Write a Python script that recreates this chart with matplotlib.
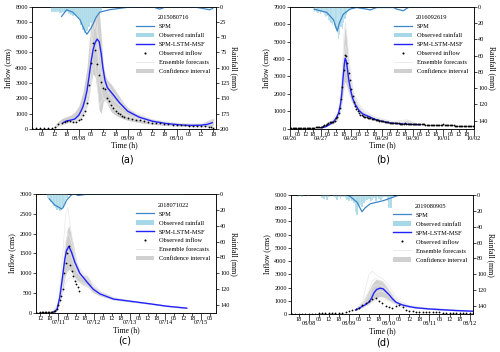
import matplotlib
matplotlib.use("Agg")
import matplotlib.pyplot as plt
import matplotlib.dates as mdates
from matplotlib.lines import Line2D
from matplotlib.patches import Patch
import pandas as pd

plt.rcParams["font.family"] = ["Liberation Serif", "DejaVu Serif"]

# ---------------- panel (a) 2015080716, hours from 2015-08-07 00:00 ----------------
a_base = "2015-08-07 00:00"
a_obs_h = [1, 3, 5, 7, 9, 11, 12.5, 14, 15.5, 17, 18, 19.5, 21, 22.5, 24, 25, 26, 27, 28, 29,
           30, 31, 32, 33, 34, 35, 36, 37, 38, 39, 40, 41, 42, 43, 44, 45, 46, 48, 50, 52,
           54, 56, 58, 60, 62, 64, 66, 68, 70, 72, 74, 76, 78, 80, 82, 84, 86, 88, 89, 90]
a_obs = [30, 30, 30, 30, 40, 60, 120, 330, 380, 450, 540, 520, 480, 470, 560, 640, 920, 1150, 1700, 2850,
         4300, 5600, 5150, 4250, 3550, 3100, 2650, 2620, 2050, 1800, 1550, 1350, 1150, 1050, 1000, 850, 780, 700, 640, 600,
         570, 500, 450, 410, 380, 350, 320, 290, 270, 250, 235, 220, 205, 195, 185, 175, 165, 150, 100, 60]
a_msf_h = [16.5, 18, 20, 22, 24, 25, 26, 27, 28, 29, 30, 31, 32, 33, 34, 35, 35.8, 36.8, 38, 40.8,
           44, 48, 53.7, 60, 66.6, 72, 76, 80, 84, 87, 89.5]
a_msf = [420, 520, 570, 640, 900, 1150, 1450, 1900, 2500, 3400, 4400, 5180, 5650, 5880, 5700, 4900, 4000, 3200, 2700, 2250,
         1700, 1150, 760, 500, 350, 280, 240, 225, 240, 290, 400]
a_ci_h = [12, 14, 16, 18, 20, 22, 24, 26, 28, 29, 30, 31, 32, 33, 34, 35, 36, 37, 38, 40,
          42, 44, 46, 48, 52, 56, 60, 66, 72, 78, 84, 88, 90]
a_ci_lo = [0, 200, 300, 400, 450, 450, 600, 900, 1500, 2200, 3000, 3600, 3400, 2500, 1200, 1000, 1800, 1900, 1600, 1100,
           900, 750, 650, 550, 450, 350, 300, 220, 180, 150, 130, 150, 200]
a_ci_hi = [200, 500, 700, 800, 900, 1100, 1500, 2400, 4000, 5500, 7000, 8000, 8000, 8000, 7800, 6000, 4200, 3500, 3200, 2900,
           2500, 2100, 1700, 1400, 1000, 800, 650, 500, 400, 350, 350, 600, 700]
a_ens_h = [12, 18, 24, 27, 29, 30, 31, 32, 33, 34, 36, 40, 48, 60, 72, 84, 90]
a_ens = [
    [100, 500, 700, 1500, 3500, 5500, 7500, 8200, 7000, 5000, 3500, 2500, 1300, 600, 380, 320, 600],
    [50, 400, 600, 1100, 2400, 3800, 5000, 5600, 5200, 4300, 3000, 2000, 1100, 500, 300, 250, 450],
    [100, 450, 650, 1300, 2800, 4500, 6200, 7000, 6200, 3000, 2000, 1600, 900, 420, 260, 200, 350],
    [80, 350, 500, 900, 1800, 3000, 4000, 4200, 3000, 1500, 2000, 1400, 800, 380, 220, 180, 300],
]
a_rain_h0 = 11
a_rain = [8, 9, 8, 9, 10, 9, 8, 9, 12, 14, 15, 13, 16, 18, 30, 38, 43, 40, 33, 26, 25, 22, 14, 12, 8]
a_spm_h = [15.5, 18, 21, 24.5, 27, 28, 30, 32.7, 34.3, 39, 48, 55, 60, 63.7, 67, 72, 80, 85, 88, 89.7]
a_spm = [16, 5, 9, 21, 40, 45, 35, 16, 9, 5, 1, 0, 0, 4, 0, 0, 0, 3, 5, 3]

# ---------------- panel (b) 2016092619, hours from 2016-09-26 00:00 ----------------
b_base = "2016-09-26 00:00"
b_obs = [60, 60, 55, 55, 50, 50, 50, 50, 50, 50, 50, 55, 55, 60, 60, 60, 60, 65, 70, 75, 80, 85, 90, 100,
         100, 120, 150, 200, 240, 300, 350, 400, 390, 380, 400, 450, 600, 700, 900, 1200, 1700, 2400, 3400, 4250, 4150, 3750, 3200, 2800,
         2300, 1900, 1550, 1300, 1120, 1000, 880, 820, 780, 740, 700, 680, 660, 640, 620, 600, 580, 560, 540, 520, 505, 490, 475, 460,
         440, 425, 410, 395, 380, 370, 360, 350, 340, 332, 325, 318, 312, 306, 300, 296, 292, 300, 320, 300, 290, 285, 280, 278,
         290, 285, 280, 275, 270, 266, 262, 258, 254, 250, 247, 244, 241, 238, 235, 232, 229, 226, 223, 220, 218, 216, 214, 212,
         260, 210, 208, 205, 202, 200, 197, 194, 191, 188, 185, 182, 179, 176, 173, 170, 167, 164, 161, 158, 155, 150, 145, 140, 135]
b_msf_h = [24, 28, 31, 34, 36, 38, 39.5, 40.5, 41.5, 42.5, 43.2, 44, 45, 46, 47.5, 49, 51, 54, 57, 62,
           66, 72, 78, 84, 90, 96, 101.7]
b_msf = [60, 120, 250, 400, 600, 900, 1400, 2000, 2900, 3700, 4050, 3900, 3400, 2800, 2200, 1750, 1400, 1050, 850, 700,
         560, 430, 340, 300, 270, 250, 235]
b_ci_h = [24, 30, 34, 37, 39, 40.5, 41.5, 42.5, 43.3, 44.5, 46, 48, 50, 54, 60, 72, 84, 90, 92, 94, 96, 101.7]
b_ci_lo = [30, 200, 300, 500, 900, 1400, 2000, 2600, 2700, 2400, 2000, 1600, 1300, 950, 650, 420, 300, 270, 270, 260, 240, 220]
b_ci_hi = [90, 400, 550, 900, 1600, 2800, 4200, 5500, 5900, 5000, 3600, 2600, 1900, 1300, 800, 520, 380, 450, 520, 450, 380, 260]
b_ens_h = [24, 32, 38, 40, 41.5, 42.5, 43.5, 45, 47, 50, 56, 66, 80, 92, 101.7]
b_ens = [
    [50, 380, 1000, 2200, 4200, 5700, 6100, 5000, 3500, 2000, 1200, 700, 420, 520, 250],
    [50, 300, 700, 1200, 1800, 2300, 2450, 2350, 2000, 1500, 1000, 600, 380, 330, 240],
    [50, 350, 850, 1700, 3000, 4300, 4800, 4100, 3000, 1800, 1100, 650, 400, 450, 240],
    [50, 320, 800, 1500, 2600, 3600, 4200, 3800, 2800, 1700, 1050, 620, 390, 380, 235],
]
b_rain_h0 = 19
b_rain = [6, 5, 7, 8, 6, 9, 7, 8, 10, 13, 12, 16, 18, 20, 22, 17, 25, 28, 32, 40, 35, 25, 28, 20, 15, 10, 6, 5, 3]
b_spm_h = [18.8, 28.7, 34, 37, 38.6, 41.8, 47, 52, 60, 62.7, 68, 81, 83.6, 88.8, 91.4, 94, 111]
b_spm = [3, 7, 16, 30, 20, 9, 3, 1, 3, 4, 1, 1, 3, 5, 2, 0, 0]

# ---------------- panel (c) 2018071022, hours from 2018-07-10 00:00 ----------------
c_base = "2018-07-10 00:00"
c_obs_h = [9, 10, 11, 12, 13, 14, 15, 16, 17, 18, 19, 20, 21, 22, 23, 24, 25, 26, 27, 28,
           29, 30, 31, 32, 33, 34, 35, 36, 37, 38]
c_obs = [10, 10, 10, 15, 15, 20, 20, 15, 20, 20, 25, 30, 40, 60, 100, 200, 330, 420, 600, 1000,
         1250, 1500, 1700, 1220, 1060, 930, 800, 720, 650, 560]
c_msf_h = [20, 21.6, 23.2, 25, 26.8, 28.4, 29.5, 31.1, 32.9, 35.1, 38.5, 43, 47.4, 52, 61, 74.4, 85.6, 96.8, 110.3]
c_msf = [15, 30, 100, 400, 900, 1360, 1570, 1680, 1530, 1280, 1000, 790, 600, 480, 350, 285, 230, 170, 120]
c_ci_h = [20, 23, 25, 27, 28.5, 30, 31, 32.5, 34, 36, 38, 40, 43, 45, 47, 52, 61, 74, 86, 97, 110.3]
c_ci_lo = [10, 60, 250, 600, 900, 1050, 1100, 1050, 950, 850, 780, 720, 680, 600, 520, 430, 330, 270, 220, 160, 110]
c_ci_hi = [60, 150, 500, 1200, 1700, 2100, 2200, 2000, 1750, 1350, 1050, 950, 950, 850, 680, 550, 400, 300, 245, 180, 125]
c_ens_h = [20, 24, 27, 29, 30.5, 32, 34, 37, 41, 45, 52, 62, 80, 110.3]
c_ens = [
    [20, 250, 1500, 2500, 2650, 2200, 1700, 1200, 1000, 850, 550, 380, 260, 120],
    [20, 150, 700, 1000, 1050, 1000, 900, 800, 750, 650, 480, 350, 250, 115],
    [20, 200, 1100, 1800, 2000, 1900, 1600, 1150, 950, 800, 520, 360, 255, 118],
    [20, 180, 900, 1400, 1550, 1500, 1300, 1000, 850, 700, 500, 350, 250, 115],
    [15, 120, 500, 750, 850, 900, 850, 780, 700, 620, 460, 340, 240, 110],
]
c_rain_h0 = 17
c_rain = [5, 8, 10, 12, 15, 18, 20, 19, 21, 20, 17, 12, 8, 5]
c_spm_h = [17.8, 21.6, 24.6, 26.1, 27.3, 29.5, 32.9, 35.1, 37.4, 40.7, 45.2, 49.7, 108]
c_spm = [6, 14, 17, 19, 17, 8, 1, 0, 2, 1, 0, 0, 0]

# ---------------- panel (d) 2019080905, hours from 2019-08-07 00:00 ----------------
d_base = "2019-08-07 00:00"
d_obs_h0 = 14  # every 2 h
d_obs = [20, 20, 25, 25, 30, 30, 30, 35, 40, 40, 45, 50, 60, 70, 90, 110,
         150, 200, 270, 340, 480, 650, 800, 1000, 1150, 1180, 1000, 800, 620, 530, 490, 600,
         650, 500, 300, 230, 200, 180, 160, 150, 140, 130, 125, 120, 115, 110, 105, 100,
         100, 95, 95, 90, 90, 90, 90]
d_msf_h = [52, 55, 58, 60, 61.5, 63, 64.5, 66.5, 68.5, 70, 72, 74, 76, 78, 80, 84, 88, 96, 104, 112, 122]
d_msf = [300, 500, 720, 900, 1200, 1600, 1850, 1950, 1900, 1700, 1450, 1150, 900, 780, 680, 560, 470, 380, 320, 260, 210]
d_ci_h = [52, 56, 58, 60, 62, 64, 66, 68, 70, 72, 74, 76, 78, 82, 88, 96, 104, 112, 122]
d_ci_lo = [250, 500, 650, 800, 1000, 1200, 1300, 1300, 1200, 1000, 850, 750, 650, 540, 430, 350, 290, 240, 190]
d_ci_hi = [400, 900, 1300, 1800, 2300, 2600, 2600, 2500, 2200, 1800, 1400, 1000, 850, 720, 520, 400, 340, 280, 230]
d_ens_h = [52, 56, 60, 62, 64, 66, 68, 71, 74, 78, 84, 96, 122]
d_ens = [
    [350, 900, 3000, 3250, 3000, 2800, 2700, 2300, 1700, 1000, 650, 420, 230],
    [250, 450, 700, 900, 1050, 1100, 1150, 1050, 900, 700, 550, 370, 200],
    [300, 700, 1800, 2500, 2700, 2500, 2400, 2000, 1500, 900, 600, 400, 220],
    [280, 600, 1400, 2000, 2200, 2200, 2100, 1800, 1300, 850, 580, 390, 215],
    [260, 520, 1000, 1400, 1600, 1700, 1700, 1500, 1150, 800, 560, 380, 210],
]
d_rain_h0 = 18
d_rain = [2, 1, 2, 1, 0, 0, 1, 0, 0, 0, 0, 0, 0, 0,
          4, 5, 3, 6, 2, 0, 0, 3, 4, 6, 2, 5, 3, 2,
          4, 6, 8, 5, 7, 10, 22, 25, 14, 12, 15, 10, 8, 6,
          5, 8, 6, 4, 7, 3, 5, 6, 4, 3, 2, 8, 17, 16, 3]
d_spm_h = [47, 48.9, 52.8, 55.8, 57.8, 60.8, 64.8, 68.7, 72.7, 76.7, 78.7]
d_spm = [0, 2, 9, 21, 16, 11, 9, 7, 4, 1, 0]

C_RAIN = "#a6d8e7"
C_SPM = "#3d86c8"
C_MSF = "#2222ff"
C_CI = "#d0d0d0"
C_ENS = "#e8e8e8"


def to_time(base, hours):
    return pd.Timestamp(base) + pd.to_timedelta(pd.Series(hours, dtype=float), unit="h")


def draw_panel(rect, base, obs_t, obs, msf_h, msf, ci_h, ci_lo, ci_hi, ens_h, ens,
               rain_h0, rain, spm_h, spm, xlim, qmax, qstep, rmax, rticks, eid, letter, lpos):
    ax = fig.add_axes(rect)
    ci_t = to_time(base, ci_h)
    ax.fill_between(ci_t, ci_lo, ci_hi, color=C_CI, lw=0, zorder=1)
    et = to_time(base, ens_h)
    for m in ens:
        ax.plot(et, m, color=C_ENS, lw=0.5, zorder=2)
    ax.plot(to_time(base, msf_h), msf, color=C_MSF, lw=1.0, zorder=3)
    ax.plot(obs_t, obs, "o", color="black", ms=1.3, mew=0, zorder=4)

    ax.set_xlim(pd.Timestamp(xlim[0]), pd.Timestamp(xlim[1]))
    ax.set_ylim(0, qmax)
    ax.set_yticks(range(0, qmax + 1, qstep))
    ax.xaxis.set_major_locator(mdates.DayLocator())
    ax.xaxis.set_major_formatter(mdates.DateFormatter("%m/%d"))
    ax.xaxis.set_minor_locator(mdates.HourLocator(byhour=[6, 12, 18]))
    ax.xaxis.set_minor_formatter(mdates.DateFormatter("%H"))
    ax.tick_params(axis="x", which="major", length=4.8, width=0.5, pad=0.3, labelsize=4.5)
    ax.tick_params(axis="x", which="minor", length=1.8, width=0.5, pad=0.6, labelsize=4.5)
    ax.tick_params(axis="y", length=2, width=0.5, pad=1, labelsize=4.5)
    ax.set_ylabel("Inflow (cms)", fontsize=5.5, labelpad=2)
    ax.set_xlabel("Time (h)", fontsize=5.5, labelpad=0.5)
    for s in ax.spines.values():
        s.set_linewidth(0.5)

    ax2 = ax.twinx()
    rt = to_time(base, [rain_h0 + i for i in range(len(rain))])
    ax2.bar(rt, rain, width=1 / 24, color=C_RAIN, edgecolor="white", linewidth=0.15, zorder=1)
    ax2.plot(to_time(base, spm_h), spm, color=C_SPM, lw=0.9, zorder=2)
    ax2.set_ylim(rmax, 0)
    ax2.set_yticks(rticks)
    ax2.tick_params(axis="y", length=2, width=0.5, pad=1, labelsize=4.5)
    ax2.set_ylabel("Rainfall (mm)", fontsize=5.5, rotation=270, labelpad=6)
    for s in ax2.spines.values():
        s.set_linewidth(0.5)

    handles = [
        Line2D([], [], color=C_SPM, lw=0.9),
        Patch(facecolor=C_RAIN, edgecolor="none"),
        Line2D([], [], color=C_MSF, lw=1.0),
        Line2D([], [], marker="o", ls="none", color="black", ms=1.5, mew=0),
        Line2D([], [], color=C_ENS, lw=0.6),
        Patch(facecolor=C_CI, edgecolor="none"),
    ]
    labels = ["SPM", "Observed rainfall", "SPM-LSTM-MSF", "Observed inflow",
              "Ensemble forecasts", "Confidence interval"]
    leg = ax2.legend(handles, labels, title=eid, loc="upper right", bbox_to_anchor=(0.99, 0.96),
                     frameon=False, fontsize=4.6, title_fontsize=4.6, handlelength=2.8,
                     labelspacing=0.55, handletextpad=0.8, borderaxespad=0.2)
    leg.set_zorder(10)
    fig.text(lpos[0], lpos[1], letter, fontsize=7, family="DejaVu Sans", ha="center", va="center")


fig = plt.figure(figsize=(5.0, 3.52), dpi=100)

draw_panel([0.064, 0.634, 0.368, 0.347], a_base, to_time(a_base, a_obs_h), a_obs,
           a_msf_h, a_msf, a_ci_h, a_ci_lo, a_ci_hi, a_ens_h, a_ens,
           a_rain_h0, a_rain, a_spm_h, a_spm,
           ("2015-08-07 01:00", "2015-08-10 19:20"), 8000, 1000, 200, range(0, 201, 25),
           "2015080716", "(a)", (0.254, 0.546))

draw_panel([0.580, 0.634, 0.368, 0.347], b_base, to_time(b_base, list(range(len(b_obs)))), b_obs,
           b_msf_h, b_msf, b_ci_h, b_ci_lo, b_ci_hi, b_ens_h, b_ens,
           b_rain_h0, b_rain, b_spm_h, b_spm,
           ("2016-09-26 00:00", "2016-10-02 00:00"), 7000, 1000, 150, range(0, 141, 20),
           "2016092619", "(b)", (0.766, 0.546))

draw_panel([0.072, 0.111, 0.360, 0.338], c_base, to_time(c_base, c_obs_h), c_obs,
           c_msf_h, c_msf, c_ci_h, c_ci_lo, c_ci_hi, c_ens_h, c_ens,
           c_rain_h0, c_rain, c_spm_h, c_spm,
           ("2018-07-10 09:00", "2018-07-15 10:00"), 3000, 500, 150, range(0, 141, 20),
           "2018071022", "(c)", (0.250, 0.034))

draw_panel([0.582, 0.108, 0.364, 0.338], d_base,
           to_time(d_base, [d_obs_h0 + 2 * i for i in range(len(d_obs))]), d_obs,
           d_msf_h, d_msf, d_ci_h, d_ci_lo, d_ci_hi, d_ens_h, d_ens,
           d_rain_h0, d_rain, d_spm_h, d_spm,
           ("2019-08-07 13:30", "2019-08-12 02:00"), 9000, 1000, 150, range(0, 141, 20),
           "2019080905", "(d)", (0.766, 0.028))

fig.savefig("out.png", dpi=100)
